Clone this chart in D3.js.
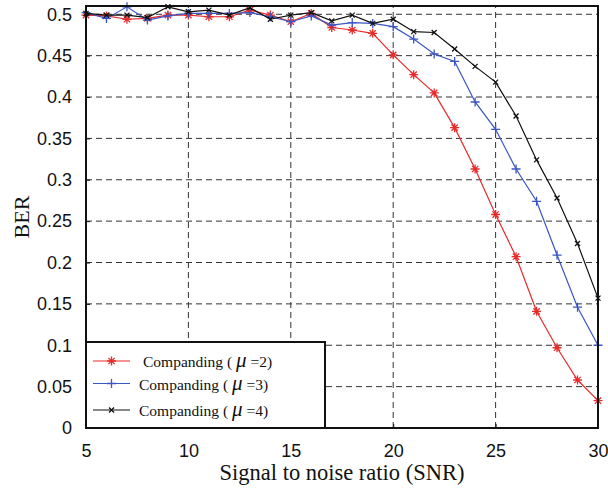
<!DOCTYPE html>
<html>
<head>
<meta charset="utf-8">
<script src="https://cdn.jsdelivr.net/npm/d3@7"></script>
<style>
  body { margin: 0; background: #fff; }
  svg { display: block; }
</style>
</head>
<body>
<div id="chart"><svg></svg></div>
<script>
// SNR values (dB)
const snr = d3.range(5, 31)

// BER for each mu
const berMu2 = [0.499, 0.498, 0.494, 0.495, 0.499, 0.499, 0.497, 0.497, 0.505, 0.499, 0.491, 0.501, 0.484,
  0.481, 0.477, 0.451, 0.427, 0.405, 0.363, 0.313, 0.258, 0.207, 0.141, 0.097, 0.058, 0.033]
const berMu3 = [0.502, 0.495, 0.509, 0.493, 0.498, 0.501, 0.501, 0.501, 0.502, 0.497, 0.491, 0.498, 0.487,
  0.490, 0.489, 0.485, 0.470, 0.452, 0.443, 0.394, 0.361, 0.313, 0.274, 0.209, 0.146, 0.100]
const berMu4 = [0.501, 0.499, 0.499, 0.496, 0.509, 0.503, 0.505, 0.499, 0.508, 0.494, 0.499, 0.502, 0.492,
  0.499, 0.489, 0.494, 0.479, 0.478, 0.458, 0.437, 0.418, 0.377, 0.324, 0.278, 0.223, 0.157]

const xTicks = [5, 10, 15, 20, 25, 30]
const yTicks = [0, 0.05, 0.1, 0.15, 0.2, 0.25, 0.3, 0.35, 0.4, 0.45, 0.5]
const muLabels = ['2', '3', '4']

const width = 608
const height = 489
const margin = { top: 6, right: 10, bottom: 61, left: 86 }

const svg = d3.select('#chart').select('svg')
  .attr('width', width)
  .attr('height', height)

const x = d3.scaleLinear().domain([5, 30]).range([margin.left, width - margin.right])
const y = d3.scaleLinear().domain([0, 0.51]).range([height - margin.bottom, margin.top])

const plot = svg.append('g')

// dashed grid
plot.selectAll('.vgrid')
  .data(xTicks.slice(1, -1))
  .enter().append('line')
  .attr('x1', d => x(d)).attr('x2', d => x(d))
  .attr('y1', y(0)).attr('y2', y(0.51))
  .attr('stroke', '#333')
  .attr('stroke-width', 1)
  .attr('stroke-dasharray', '6,4')

plot.selectAll('.hgrid')
  .data(yTicks.slice(1))
  .enter().append('line')
  .attr('x1', x(5)).attr('x2', x(30))
  .attr('y1', d => y(d)).attr('y2', d => y(d))
  .attr('stroke', '#333')
  .attr('stroke-width', 1)
  .attr('stroke-dasharray', '6,4')

// axes (ticks point inward like matlab)
const xAxis = svg.append('g')
  .attr('transform', `translate(0,${y(0)})`)
  .call(d3.axisBottom(x).tickValues(xTicks).tickSizeInner(-4).tickSizeOuter(0).tickPadding(16).tickFormat(d3.format('d')))
xAxis.select('.domain').remove()

const yAxis = svg.append('g')
  .attr('transform', `translate(${x(5)},0)`)
  .call(d3.axisLeft(y).tickValues(yTicks).tickSizeInner(-4).tickSizeOuter(0).tickPadding(14).tickFormat(d => String(d)))
yAxis.select('.domain').remove()

svg.selectAll('.tick line').attr('stroke', '#111')
svg.selectAll('.tick text')
  .attr('font-family', 'Liberation Sans, Arial, sans-serif')
  .attr('font-size', 18)
  .attr('fill', '#111')

const series = [
  { values: berMu2, color: '#e62b2b', marker: 'star' },
  { values: berMu3, color: '#3a55c4', marker: 'plus' },
  { values: berMu4, color: '#111', marker: 'cross' }
]

const line = d3.line()
  .x((d, i) => x(snr[i]))
  .y(d => y(d))

function drawMarker (g, type, cx, cy, color) {
  const s = type === 'cross' ? 2.5 : 4.5
  let d = ''
  if (type === 'plus' || type === 'star') {
    d += `M${cx - s},${cy}L${cx + s},${cy}M${cx},${cy - s}L${cx},${cy + s}`
  }
  if (type === 'cross' || type === 'star') {
    const k = type === 'star' ? s * 0.7 : s
    d += `M${cx - k},${cy - k}L${cx + k},${cy + k}M${cx - k},${cy + k}L${cx + k},${cy - k}`
  }
  g.append('path').attr('d', d).attr('stroke', color).attr('stroke-width', 1.3).attr('fill', 'none')
}

series.forEach(s => {
  plot.append('path')
    .datum(s.values)
    .attr('d', line)
    .attr('fill', 'none')
    .attr('stroke', s.color)
    .attr('stroke-width', 1.2)
  const mg = plot.append('g')
  s.values.forEach((v, i) => drawMarker(mg, s.marker, x(snr[i]), y(v), s.color))
})

// frame
svg.append('rect')
  .attr('x', x(5)).attr('y', y(0.51))
  .attr('width', x(30) - x(5)).attr('height', y(0) - y(0.51))
  .attr('fill', 'none')
  .attr('stroke', '#111')
  .attr('stroke-width', 2)

// legend
const legend = svg.append('g')
legend.append('rect')
  .attr('x', x(5)).attr('y', 342)
  .attr('width', 239).attr('height', y(0) - 342)
  .attr('fill', '#fff')
  .attr('stroke', '#111')
  .attr('stroke-width', 2)

const rowY = [361, 383.5, 410]
const textX = [143, 139, 139]
series.forEach((s, i) => {
  legend.append('line')
    .attr('x1', 93).attr('x2', 130)
    .attr('y1', rowY[i]).attr('y2', rowY[i])
    .attr('stroke', s.color).attr('stroke-width', 1.2)
  drawMarker(legend, s.marker, 111.5, rowY[i], s.color)
  const t = legend.append('text')
    .attr('x', textX[i]).attr('y', rowY[i] + 6)
    .attr('font-family', 'Liberation Serif, Times New Roman, serif')
    .attr('font-size', 15.5)
    .attr('fill', '#111')
  t.append('tspan').text('Companding ( ')
  t.append('tspan').attr('font-style', 'italic').attr('font-size', 21).text('\u03bc')
  t.append('tspan').text(' =' + muLabels[i] + ')')
})

// axis labels
svg.append('text')
  .attr('x', (x(5) + x(30)) / 2).attr('y', 480)
  .attr('text-anchor', 'middle')
  .attr('font-family', 'Liberation Serif, Times New Roman, serif')
  .attr('font-size', 22.5)
  .attr('fill', '#111')
  .text('Signal to noise ratio (SNR)')

svg.append('text')
  .attr('transform', `translate(29,${(y(0) + y(0.51)) / 2}) rotate(-90)`)
  .attr('text-anchor', 'middle')
  .attr('font-family', 'Liberation Serif, Times New Roman, serif')
  .attr('font-size', 22)
  .attr('fill', '#111')
  .text('BER')
</script>
</body>
</html>
